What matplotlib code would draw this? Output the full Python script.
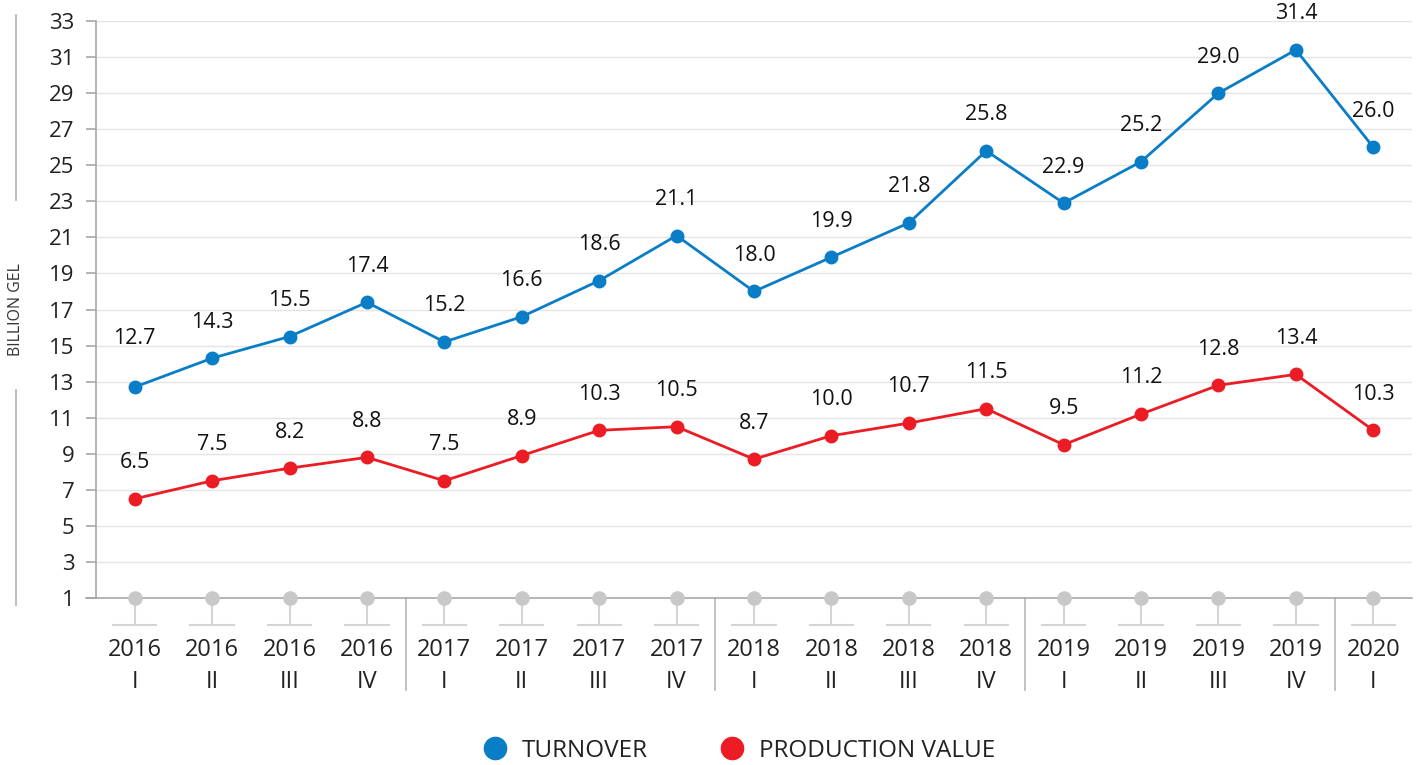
import matplotlib
matplotlib.use("Agg")
import matplotlib.pyplot as plt
from matplotlib.lines import Line2D

# data
years = ["2016", "2016", "2016", "2016", "2017", "2017", "2017", "2017",
         "2018", "2018", "2018", "2018", "2019", "2019", "2019", "2019", "2020"]
quarters = ["I", "II", "III", "IV", "I", "II", "III", "IV",
            "I", "II", "III", "IV", "I", "II", "III", "IV", "I"]
turnover = [12.7, 14.3, 15.5, 17.4, 15.2, 16.6, 18.6, 21.1,
            18.0, 19.9, 21.8, 25.8, 22.9, 25.2, 29.0, 31.4, 26.0]
production = [6.5, 7.5, 8.2, 8.8, 7.5, 8.9, 10.3, 10.5,
              8.7, 10.0, 10.7, 11.5, 9.5, 11.2, 12.8, 13.4, 10.3]
yticks = list(range(1, 34, 2))

BLUE = "#0a7dc7"
RED = "#ec1c24"
GRAY = "#c8c8c9"
AXIS = "#a8a8a8"

plt.rcParams["font.family"] = ["Open Sans", "DejaVu Sans"]

fig = plt.figure(figsize=(14.18, 7.65), dpi=100)
ax = fig.add_axes([96 / 1418, 167 / 765, 1316 / 1418, 577 / 765])

x = list(range(len(years)))
ax.set_xlim(-0.5, len(years) - 0.5)
ax.set_ylim(1, 33)

# grid
for v in yticks[1:]:
    ax.axhline(v, color="#e4e4e4", lw=1, zorder=0)

ax.plot(x, turnover, color=BLUE, lw=2, marker="o", ms=9, zorder=3)
ax.plot(x, production, color=RED, lw=2, marker="o", ms=9, zorder=3)

# first turnover label sits a bit higher, clear of the line
for xi, v in zip(x, turnover):
    dy = 35 if xi == 0 else 26
    ax.annotate(f"{v:.1f}", (xi, v), xytext=(0, dy), textcoords="offset points",
                ha="center", va="center", fontsize=15.5, color="#111111")
for xi, v in zip(x, production):
    ax.annotate(f"{v:.1f}", (xi, v), xytext=(0, 26), textcoords="offset points",
                ha="center", va="center", fontsize=15.5, color="#111111")

# gray baseline dots with stems
ax.plot(x, [1] * len(x), ls="none", marker="o", ms=9.5, color=GRAY, zorder=4,
        clip_on=False)
trans = ax.get_xaxis_transform()
stem_y = -27 / 577
for xi in x:
    ax.plot([xi, xi], [0, stem_y], color="#d4d4d4", lw=1.5, transform=trans,
            clip_on=False, zorder=2)
    ax.plot([xi - 0.28, xi + 0.28], [stem_y, stem_y], color="#d4d4d4", lw=1.5,
            transform=trans, clip_on=False)
    ax.text(xi, -52 / 577, years[xi], transform=trans, ha="center", va="center",
            fontsize=17, color="#222222")
    ax.text(xi, -84 / 577, quarters[xi], transform=trans, ha="center", va="center",
            fontsize=17, color="#222222")

# year separators
for xi in x[1:]:
    if years[xi] != years[xi - 1]:
        ax.plot([xi - 0.5, xi - 0.5], [0, -92 / 577], color="#b8b8b8", lw=1.2,
                transform=trans, clip_on=False)

# axes styling
for s in ["top", "right"]:
    ax.spines[s].set_visible(False)
ax.spines["left"].set_color(AXIS)
ax.spines["bottom"].set_color(AXIS)
ax.spines["left"].set_linewidth(1.2)
ax.spines["bottom"].set_linewidth(1.2)
ax.set_yticks(yticks)
ax.set_yticklabels([str(v) for v in yticks])
ax.tick_params(axis="y", length=7.5, width=1.2, color=AXIS, pad=8,
               labelsize=16, labelcolor="#222222")
ax.set_xticks([])
# extend bottom line left to the tick length
ax.plot([-0.5 - 10 / 77.4, -0.5], [1, 1], color=AXIS, lw=1.2, clip_on=False)

# y-axis label and side rules
fig.text(16 / 1418, 1 - 310 / 765, "BILLION GEL", rotation=90, ha="center",
         va="center", fontsize=11.5, color="#333333")
fig.add_artist(Line2D([16 / 1418, 16 / 1418], [1 - 15 / 765, 1 - 200 / 765],
                      color="#b0b0b0", lw=1.2))
fig.add_artist(Line2D([16 / 1418, 16 / 1418], [1 - 390 / 765, 1 - 605 / 765],
                      color="#b0b0b0", lw=1.2))

# legend
handles = [Line2D([], [], ls="none", marker="o", ms=16, color=BLUE),
           Line2D([], [], ls="none", marker="o", ms=16, color=RED)]
fig.legend(handles, ["TURNOVER", "PRODUCTION VALUE"], loc="center",
           bbox_to_anchor=(739 / 1418, 14 / 765), ncol=2, frameon=False,
           fontsize=17.5, handlelength=1.0, handletextpad=0.6, columnspacing=3.0,
           labelcolor="#222222")

fig.savefig("out.png", dpi=100)
